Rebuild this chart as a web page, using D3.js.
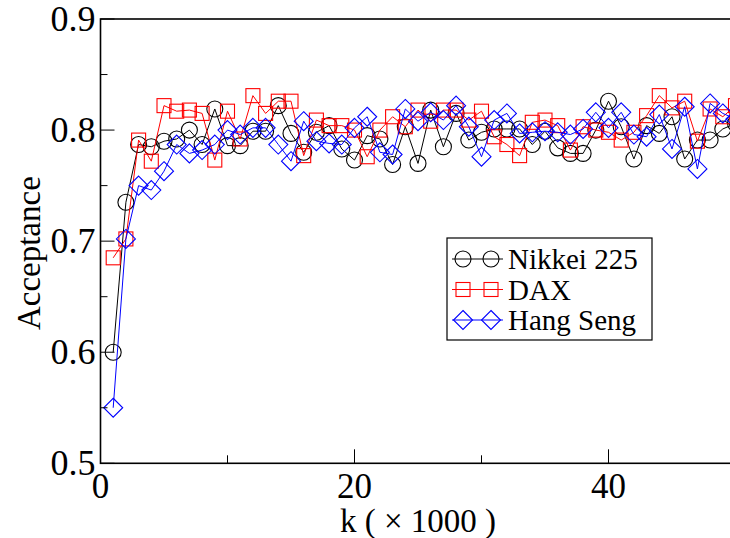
<!DOCTYPE html>
<html><head><meta charset="utf-8">
<script src="https://cdn.jsdelivr.net/npm/d3@7"></script>
<style>body{margin:0;background:#fff}svg{display:block}
text{font-family:"Liberation Serif","Times New Roman",Times,"DejaVu Serif",serif}</style>
</head><body>
<svg id="c" width="730" height="538"></svg>
<script>
const kValues = d3.range(1, 51);
const nikkei = [0.600,0.735,0.787,0.785,0.790,0.792,0.800,0.787,0.819,0.786,
  0.786,0.799,0.799,0.822,0.797,0.780,0.798,0.804,0.783,0.773,
  0.795,0.792,0.769,0.803,0.770,0.818,0.785,0.815,0.791,0.798,
  0.801,0.801,0.801,0.787,0.799,0.784,0.779,0.779,0.800,0.826,
  0.803,0.774,0.804,0.797,0.812,0.774,0.791,0.791,0.801,0.806];
const dax = [0.685,0.702,0.791,0.772,0.822,0.817,0.818,0.815,0.773,0.817,
  0.792,0.831,0.815,0.826,0.826,0.777,0.809,0.804,0.804,0.800,
  0.776,0.800,0.812,0.803,0.818,0.808,0.818,0.818,0.809,0.817,
  0.794,0.787,0.777,0.807,0.809,0.804,0.782,0.803,0.800,0.798,
  0.791,0.798,0.813,0.831,0.820,0.826,0.790,0.819,0.812,0.822];
const hangSeng = [0.550,0.702,0.750,0.746,0.763,0.787,0.779,0.782,0.787,0.800,
  0.796,0.802,0.802,0.787,0.772,0.808,0.790,0.788,0.787,0.802,
  0.812,0.780,0.778,0.819,0.808,0.816,0.809,0.822,0.803,0.776,
  0.809,0.815,0.797,0.798,0.799,0.798,0.796,0.801,0.816,0.802,
  0.816,0.796,0.794,0.814,0.783,0.821,0.765,0.824,0.815,0.810];
const seriesNames = ["Nikkei 225", "DAX", "Hang Seng"];
const xTicks = [0, 20, 40];
const xMinorTicks = [10, 30, 50];
const yTicks = [0.5, 0.6, 0.7, 0.8, 0.9];
const yMinorTicks = [0.55, 0.65, 0.75, 0.85];

const svg = d3.select("#c");
const L = 100.5, R = 735.5, T = 19, B = 463.3;
const x = d3.scaleLinear().domain([0, 50]).range([L, R]);
const y = d3.scaleLinear().domain([0.5, 0.9]).range([B, T]);

const series = [
  {name: seriesNames[0], vals: nikkei, color: "#000000", shape: "circle"},
  {name: seriesNames[1], vals: dax, color: "#ff0000", shape: "square"},
  {name: seriesNames[2], vals: hangSeng, color: "#0000ff", shape: "diamond"}
];

function drawMarker(g, shape, cx, cy, color) {
  if (shape === "circle") {
    g.append("circle").attr("cx", cx).attr("cy", cy).attr("r", 8)
      .attr("fill", "none").attr("stroke", color).attr("stroke-width", 1.1);
  } else if (shape === "square") {
    g.append("rect").attr("x", cx - 7).attr("y", cy - 7).attr("width", 14).attr("height", 14)
      .attr("fill", "none").attr("stroke", color).attr("stroke-width", 1.1);
  } else {
    const h = 9.5;
    g.append("path").attr("d", `M${cx},${cy-h}L${cx+h},${cy}L${cx},${cy+h}L${cx-h},${cy}Z`)
      .attr("fill", "none").attr("stroke", color).attr("stroke-width", 1.1);
  }
}

const plot = svg.append("g");
const line = d3.line().x((d, i) => x(kValues[i])).y(d => y(d));
series.forEach(s => {
  plot.append("path").datum(s.vals).attr("d", line)
    .attr("fill", "none").attr("stroke", s.color).attr("stroke-width", 1);
  s.vals.forEach((v, i) => drawMarker(plot, s.shape, x(kValues[i]), y(v), s.color));
});

// frame
svg.append("rect").attr("x", L).attr("y", T).attr("width", R - L).attr("height", B - T)
  .attr("fill", "none").attr("stroke", "#000").attr("stroke-width", 1.6);

// ticks (inward)
const ax = svg.append("g").attr("stroke", "#000").attr("stroke-width", 1);
xTicks.forEach(t => ax.append("line").attr("x1", x(t)).attr("x2", x(t)).attr("y1", B).attr("y2", B - 14));
xMinorTicks.forEach(t => ax.append("line").attr("x1", x(t)).attr("x2", x(t)).attr("y1", B).attr("y2", B - 8));
yTicks.forEach(t => ax.append("line").attr("x1", L).attr("x2", L + 14).attr("y1", y(t)).attr("y2", y(t)));
yMinorTicks.forEach(t => ax.append("line").attr("x1", L).attr("x2", L + 7).attr("y1", y(t)).attr("y2", y(t)));

// tick labels
svg.append("g").selectAll("text").data(xTicks).join("text")
  .attr("x", d => x(d)).attr("y", B + 35).attr("text-anchor", "middle")
  .attr("font-size", 35).text(d => d3.format("d")(d));
svg.append("g").selectAll("text").data(yTicks).join("text")
  .attr("x", L - 5).attr("y", d => y(d) + 12).attr("text-anchor", "end")
  .attr("font-size", 36).text(d => d3.format(".1f")(d));

// axis titles
svg.append("text").attr("x", 418).attr("y", 532).attr("text-anchor", "middle")
  .attr("font-size", 33).text("k ( \u00d7 1000 )");
svg.append("text").attr("transform", `translate(40,${(T + B) / 2 + 12}) rotate(-90)`)
  .attr("text-anchor", "middle").attr("font-size", 33).text("Acceptance");

// legend
const lg = svg.append("g");
lg.append("rect").attr("x", 447).attr("y", 238).attr("width", 205).attr("height", 102)
  .attr("fill", "#fff").attr("stroke", "#000").attr("stroke-width", 1.2);
series.forEach((s, i) => {
  const cy = 259 + i * 30.5;
  lg.append("line").attr("x1", 452).attr("x2", 503).attr("y1", cy).attr("y2", cy)
    .attr("stroke", s.color).attr("stroke-width", 1);
  drawMarker(lg, s.shape, 463, cy, s.color);
  drawMarker(lg, s.shape, 491, cy, s.color);
  lg.append("text").attr("x", 508).attr("y", cy + 10).attr("font-size", 29).text(s.name);
});
</script>
</body></html>
